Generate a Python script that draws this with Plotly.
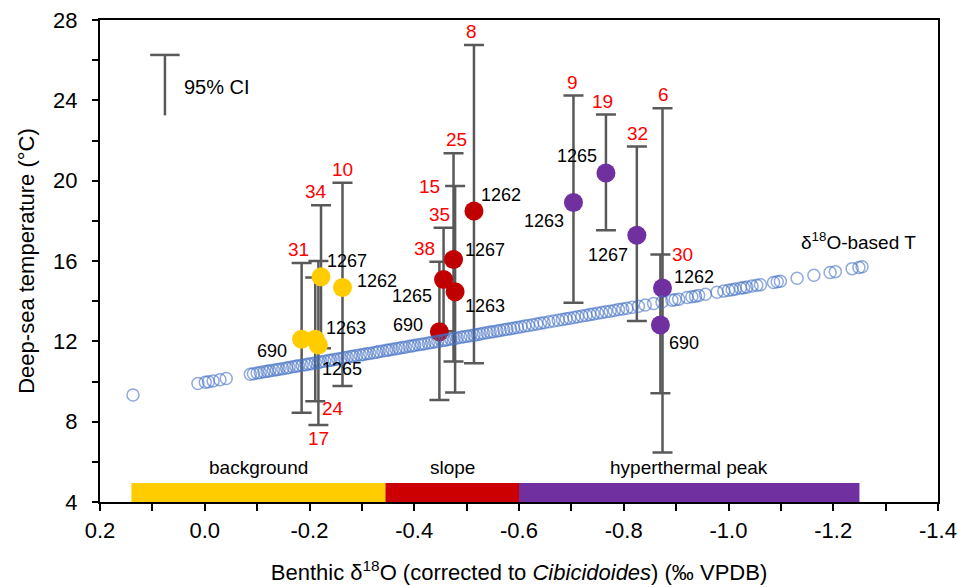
import plotly.graph_objects as go

# ---------------- data ----------------
# background phase (yellow)
bg_site = ["690", "1263", "1265", "1267", "1262"]
bg_d18o = [-0.185, -0.211, -0.217, -0.222, -0.263]
bg_temp = [12.10, 12.10, 11.82, 15.21, 14.68]
bg_lo = [8.45, 9.02, 7.84, 11.65, 9.78]
bg_hi = [15.90, 15.18, 16.00, 18.77, 19.90]
bg_n = ["31", "24", "17", "34", "10"]

# slope phase (red)
sl_site = ["690", "1265", "1267", "1263", "1262"]
sl_d18o = [-0.448, -0.456, -0.475, -0.478, -0.514]
sl_temp = [12.48, 15.08, 16.07, 14.47, 18.49]
sl_lo = [9.08, 12.50, 10.99, 9.45, 10.91]
sl_hi = [15.96, 17.66, 21.37, 19.73, 26.76]
sl_n = ["38", "35", "25", "15", "8"]

# hyperthermal peak (purple)
pk_site = ["1263", "1265", "1267", "1262", "690"]
pk_d18o = [-0.704, -0.766, -0.825, -0.874, -0.870]
pk_temp = [18.91, 20.38, 17.28, 14.66, 12.81]
pk_lo = [13.92, 17.53, 13.01, 6.46, 9.42]
pk_hi = [24.24, 23.29, 21.70, 23.61, 16.32]
pk_n = ["9", "19", "32", "6", "30"]

# d18O-based temperature (open blue circles)
iso_d18o = [0.137, 0.013, -0.001, -0.007, -0.016, -0.029, -0.041, -0.087, -0.093,
            -0.100, -0.106, -0.113, -0.119, -0.124, -0.131, -0.137, -0.142, -0.149, -0.156,
            -0.161, -0.168, -0.174, -0.179, -0.186, -0.193, -0.198, -0.204, -0.211, -0.217,
            -0.222, -0.229, -0.236, -0.241, -0.247, -0.254, -0.260, -0.266, -0.272, -0.279,
            -0.284, -0.290, -0.297, -0.303, -0.309, -0.315, -0.322, -0.328, -0.333, -0.340,
            -0.347, -0.352, -0.358, -0.365, -0.371, -0.377, -0.383, -0.390, -0.396, -0.401,
            -0.408, -0.414, -0.420, -0.427, -0.433, -0.439, -0.445, -0.452, -0.458, -0.463,
            -0.470, -0.476, -0.482, -0.489, -0.495, -0.501, -0.507, -0.514, -0.520, -0.526,
            -0.532, -0.539, -0.545, -0.551, -0.558, -0.564, -0.571, -0.577, -0.584, -0.590,
            -0.597, -0.604, -0.611, -0.618, -0.626, -0.634, -0.641, -0.648, -0.657, -0.666,
            -0.675, -0.683, -0.690, -0.697, -0.705, -0.712, -0.720, -0.728, -0.735, -0.742,
            -0.750, -0.758, -0.766, -0.774, -0.782, -0.790, -0.798,
            -0.806, -0.816, -0.828, -0.841, -0.857, -0.873, -0.892, -0.898, -0.905, -0.921,
            -0.930, -0.937, -0.943, -0.956, -0.978, -0.991, -1.000, -1.007, -1.013, -1.023,
            -1.029, -1.035, -1.045, -1.054, -1.061, -1.086, -1.093, -1.099, -1.131, -1.163,
            -1.194, -1.204, -1.236, -1.249, -1.255]
iso_temp = [9.33, 9.90, 9.96, 9.99, 10.03, 10.09, 10.15, 10.36, 10.39,
            10.42, 10.45, 10.48, 10.51, 10.53, 10.56, 10.59, 10.61, 10.64, 10.67,
            10.70, 10.73, 10.76, 10.78, 10.81, 10.84, 10.87, 10.89, 10.93, 10.95,
            10.98, 11.01, 11.04, 11.06, 11.09, 11.12, 11.15, 11.18, 11.21, 11.24,
            11.26, 11.29, 11.32, 11.35, 11.38, 11.40, 11.43, 11.46, 11.49, 11.52,
            11.55, 11.57, 11.60, 11.63, 11.66, 11.69, 11.71, 11.75, 11.77, 11.80,
            11.83, 11.86, 11.88, 11.92, 11.94, 11.97, 12.00, 12.03, 12.06, 12.08,
            12.11, 12.14, 12.17, 12.20, 12.23, 12.25, 12.28, 12.31, 12.34, 12.37,
            12.40, 12.43, 12.46, 12.48, 12.52, 12.54, 12.58, 12.60, 12.63, 12.66,
            12.69, 12.73, 12.76, 12.79, 12.83, 12.86, 12.90, 12.93, 12.97, 13.01,
            13.05, 13.09, 13.12, 13.15, 13.19, 13.22, 13.26, 13.29, 13.33, 13.36,
            13.40, 13.43, 13.47, 13.50, 13.54, 13.58, 13.61,
            13.65, 13.70, 13.75, 13.81, 13.88, 13.96, 14.05, 14.07, 14.10, 14.18,
            14.22, 14.25, 14.28, 14.34, 14.44, 14.50, 14.54, 14.57, 14.60, 14.65,
            14.67, 14.70, 14.75, 14.79, 14.82, 14.93, 14.97, 14.99, 15.14, 15.29,
            15.43, 15.47, 15.62, 15.68, 15.71]

# phase bar along the bottom
phase_name = ["background", "slope", "hyperthermal peak"]
phase_start = [0.14, -0.345, -0.60]
phase_end = [-0.345, -0.60, -1.25]

# axis ticks
x_tickvals = [0.2, 0.0, -0.2, -0.4, -0.6, -0.8, -1.0, -1.2, -1.4]
x_ticktext = ["0.2", "0.0", "-0.2", "-0.4", "-0.6", "-0.8", "-1.0", "-1.2", "-1.4"]
y_tickvals = [4, 8, 12, 16, 20, 24, 28]
y_ticktext = ["4", "8", "12", "16", "20", "24", "28"]

# ---------------- styles / positions ----------------
FONT = "Liberation Sans, Arial, sans-serif"
YELLOW, RED, PURPLE = "#FFCC00", "#C00000", "#7030A0"
BAND_COLORS = ["#FFCC00", "#CC0000", "#7030A0"]
EB_COLOR = "#595959"
BAND_TOP = 4.95

# site label placement: (xanchor, xshift px, down px)
bg_lab = [("right", -13, 12), ("left", 9, -11), ("left", 2, 24), ("left", 4, -16), ("left", 12, -7)]
sl_lab = [("right", -14, -7), ("right", -10, 17), ("left", 9, -10), ("left", 8, 14), ("left", 5, -16)]
pk_lab = [("right", -7, 18), ("right", -7, -17), ("right", -7, 20), ("left", 9, -11), ("left", 7, 18)]
# n label placement: (mode, xshift)
bg_nl = [("top", -3), ("bottomright", 18), ("bottom", 0), ("top", -5), ("top", 0)]
sl_nl = [("topleft", -2), ("top", -4), ("top", 3), ("sideleft", -13), ("top", -2)]
pk_nl = [("top", -1), ("top", -3), ("top", 1), ("top", 1), ("sideright", 10)]

fig = go.Figure()

for name, x0, x1, col in zip(phase_name, phase_start, phase_end, BAND_COLORS):
    fig.add_shape(type="rect", xref="x", yref="y", x0=x0, x1=x1, y0=4, y1=BAND_TOP,
                  fillcolor=col, line_width=0, layer="below")
    fig.add_annotation(x=(x0 + x1) / 2, y=BAND_TOP, text=name, showarrow=False,
                       yanchor="bottom", yshift=3, font=dict(family=FONT, size=19, color="black"))


def add_group(xs, ts, lo, hi, color, sites, ns, lab, nl):
    fig.add_trace(go.Scatter(
        x=xs, y=ts, mode="markers",
        marker=dict(size=19, color=color, line=dict(width=0)),
        error_y=dict(type="data", symmetric=False,
                     array=[h - t for h, t in zip(hi, ts)],
                     arrayminus=[t - l for t, l in zip(ts, lo)],
                     color=EB_COLOR, thickness=2.5, width=10),
        showlegend=False, hoverinfo="skip"))
    for x, t, l, h, s, n, (xa, dx, dy), (mode, nx) in zip(xs, ts, lo, hi, sites, ns, lab, nl):
        fig.add_annotation(x=x, y=t, text=s, showarrow=False, xanchor=xa, yanchor="middle",
                           xshift=dx, yshift=-dy, font=dict(family=FONT, size=18, color="black"))
        nfont = dict(family=FONT, size=19, color="#FF0000")
        if mode == "top":
            fig.add_annotation(x=x, y=h, text=n, showarrow=False, xanchor="center", yanchor="bottom",
                               xshift=nx, yshift=1, font=nfont)
        elif mode == "topleft":
            fig.add_annotation(x=x, y=h, text=n, showarrow=False, xanchor="right", yanchor="bottom",
                               xshift=nx, yshift=1, font=nfont)
        elif mode == "bottom":
            fig.add_annotation(x=x, y=l, text=n, showarrow=False, xanchor="center", yanchor="top",
                               xshift=nx, yshift=-1, font=nfont)
        elif mode == "bottomright":
            fig.add_annotation(x=x, y=l, text=n, showarrow=False, xanchor="center", yanchor="middle",
                               xshift=nx, yshift=-7, font=nfont)
        elif mode == "sideleft":
            fig.add_annotation(x=x, y=h, text=n, showarrow=False, xanchor="right", yanchor="middle",
                               xshift=nx, yshift=0, font=nfont)
        elif mode == "sideright":
            fig.add_annotation(x=x, y=h, text=n, showarrow=False, xanchor="left", yanchor="middle",
                               xshift=nx, yshift=0, font=nfont)


add_group(bg_d18o, bg_temp, bg_lo, bg_hi, YELLOW, bg_site, bg_n, bg_lab, bg_nl)
add_group(sl_d18o, sl_temp, sl_lo, sl_hi, RED, sl_site, sl_n, sl_lab, sl_nl)
add_group(pk_d18o, pk_temp, pk_lo, pk_hi, PURPLE, pk_site, pk_n, pk_lab, pk_nl)

fig.add_trace(go.Scatter(
    x=iso_d18o, y=iso_temp, mode="markers",
    marker=dict(symbol="circle-open", size=12, color="rgba(68,114,196,0.6)", line=dict(width=1.5)),
    showlegend=False, hoverinfo="skip"))

fig.add_annotation(x=-1.248, y=16.98, text="δ<sup>18</sup>O-based T", showarrow=False,
                   xanchor="center", yanchor="middle", font=dict(family=FONT, size=19, color="black"))

# 95% CI key
CI_X, CI_Y0, CI_Y1 = 0.076, 23.25, 26.26
fig.add_trace(go.Scatter(x=[CI_X, CI_X], y=[CI_Y0, CI_Y1], mode="lines",
                         line=dict(color=EB_COLOR, width=2.5), showlegend=False, hoverinfo="skip"))
fig.add_trace(go.Scatter(x=[CI_X], y=[CI_Y1], mode="markers",
                         marker=dict(symbol="line-ew", size=21, line=dict(color=EB_COLOR, width=2.5)),
                         showlegend=False, hoverinfo="skip"))
fig.add_annotation(x=0.0434, y=24.64, text="95% CI", showarrow=False, xanchor="left",
                   yanchor="middle", font=dict(family=FONT, size=20, color="black"))

fig.update_layout(
    width=958, height=587,
    margin=dict(l=100, r=20, t=20, b=85),
    paper_bgcolor="white", plot_bgcolor="white",
    font=dict(family=FONT, color="black"),
    showlegend=False,
)
fig.update_xaxes(
    range=[0.2, -1.4], tickmode="array", tickvals=x_tickvals, ticktext=x_ticktext,
    automargin=False,
    showgrid=False, zeroline=False, showline=True, linecolor="black", linewidth=2.25, mirror=True,
    ticks="outside", ticklen=7, tickwidth=2, tickcolor="black",
    minor=dict(dtick=0.1, tick0=0, ticks="outside", ticklen=7, tickwidth=2, tickcolor="black", showgrid=False),
    tickfont=dict(family=FONT, size=22), ticklabelstandoff=0,
    title=dict(text="Benthic δ<sup>18</sup>O (corrected to <i>Cibicidoides</i>) (‰ VPDB)",
               font=dict(family=FONT, size=22), standoff=23),
)
fig.update_yaxes(
    range=[4, 28], tickmode="array", tickvals=y_tickvals, ticktext=y_ticktext,
    automargin=False,
    showgrid=False, zeroline=False, showline=True, linecolor="black", linewidth=2.25, mirror=True,
    ticks="outside", ticklen=6, tickwidth=2, tickcolor="black",
    minor=dict(dtick=2, tick0=0, ticks="outside", ticklen=6, tickwidth=2, tickcolor="black", showgrid=False),
    tickfont=dict(family=FONT, size=22), ticklabelstandoff=10,
    title=dict(text="Deep-sea temperature (°C)", font=dict(family=FONT, size=22), standoff=12),
)

fig.write_html("out.html", config={"displayModeBar": False},
               post_script="document.body.style.margin='0';document.body.style.overflow='hidden';")
